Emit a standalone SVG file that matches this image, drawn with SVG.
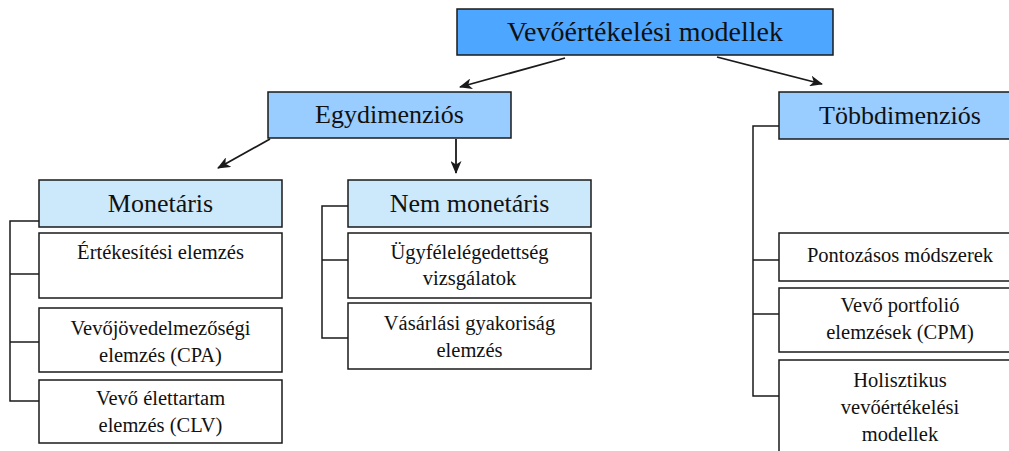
<svg xmlns="http://www.w3.org/2000/svg" width="1009" height="451" viewBox="0 0 1009 451">
  <style>
    .box { stroke: #1a1a1a; stroke-width: 1.5; }
    .root { fill: #4da6ff; }
    .mid { fill: #99ccff; }
    .sub { fill: #cce8fb; }
    .leaf { fill: #ffffff; }
    .t24 { font-size: 28px; }
    .t22 { font-size: 26px; }
    .t18 { font-size: 20.5px; }
    .link { fill: none; stroke: #1a1a1a; stroke-width: 1.5; }
    .arrow { fill: none; stroke: #1a1a1a; stroke-width: 1.8; marker-end: url(#head); }
  </style>
  <defs>
    <marker id="head" viewBox="0 0 13 11" refX="12" refY="5.5" markerWidth="13" markerHeight="11" markerUnits="userSpaceOnUse" orient="auto">
      <path d="M0,0 L13,5.5 L0,11 L3.5,5.5 Z" fill="#1a1a1a"/>
    </marker>
  </defs>
  <rect width="1009" height="451" fill="#ffffff"/>

  <g id="connectors">
    <line class="arrow" x1="565" y1="58" x2="460" y2="87"/>
    <line class="arrow" x1="717" y1="57" x2="822" y2="84"/>
    <line class="arrow" x1="270" y1="139" x2="218" y2="168"/>
    <line class="arrow" x1="456" y1="139" x2="456" y2="173"/>
    <!-- Monetáris bracket -->
    <polyline class="link" points="39,221 10,221 10,401 39,401"/>
    <line class="link" x1="10" y1="274" x2="39" y2="274"/>
    <line class="link" x1="10" y1="342" x2="39" y2="342"/>
    <!-- Nem monetáris bracket -->
    <polyline class="link" points="348,206 322,206 322,338 348,338"/>
    <line class="link" x1="322" y1="260" x2="348" y2="260"/>
    <!-- Többdimenziós bracket -->
    <polyline class="link" points="779,126 753,126 753,396 779,396"/>
    <line class="link" x1="753" y1="260" x2="779" y2="260"/>
    <line class="link" x1="753" y1="314" x2="779" y2="314"/>
  </g>

  <g font-family="Liberation Serif, Tinos, DejaVu Serif, serif" fill="#111" text-anchor="middle">
  <g id="root">
    <rect class="box root" x="457" y="9" width="376" height="46"/>
    <text class="t24" x="645" y="41">Vevőértékelési modellek</text>
  </g>
  <g id="egydimenzios">
    <rect class="box mid" x="268" y="92" width="243" height="46"/>
    <text class="t22" x="389.5" y="123">Egydimenziós</text>
  </g>
  <g id="tobbdimenzios">
    <rect class="box mid" x="779" y="92" width="243" height="47"/>
    <text class="t22" x="900" y="124">Többdimenziós</text>
  </g>
  <g id="monetaris">
    <rect class="box sub" x="39" y="180" width="243" height="47"/>
    <text class="t22" x="160.5" y="212">Monetáris</text>
  </g>
  <g id="nem-monetaris">
    <rect class="box sub" x="348" y="180" width="243" height="47"/>
    <text class="t22" x="469.5" y="212">Nem monetáris</text>
  </g>

  <g id="ertekesitesi">
    <rect class="box leaf" x="39" y="233" width="243" height="65"/>
    <text class="t18" x="160.5" y="259">Értékesítési elemzés</text>
  </g>
  <g id="cpa">
    <rect class="box leaf" x="39" y="308" width="243" height="64"/>
    <text class="t18" x="160.5" y="335">Vevőjövedelmezőségi</text>
    <text class="t18" x="160.5" y="362">elemzés (CPA)</text>
  </g>
  <g id="clv">
    <rect class="box leaf" x="39" y="380" width="243" height="63"/>
    <text class="t18" x="160.5" y="405">Vevő élettartam</text>
    <text class="t18" x="160.5" y="432">elemzés (CLV)</text>
  </g>

  <g id="ugyfelelegedettseg">
    <rect class="box leaf" x="348" y="233" width="243" height="65"/>
    <text class="t18" x="469.5" y="259">Ügyfélelégedettség</text>
    <text class="t18" x="469.5" y="285">vizsgálatok</text>
  </g>
  <g id="vasarlasi">
    <rect class="box leaf" x="348" y="303" width="243" height="66"/>
    <text class="t18" x="469.5" y="330">Vásárlási gyakoriság</text>
    <text class="t18" x="469.5" y="357">elemzés</text>
  </g>

  <g id="pontozasos">
    <rect class="box leaf" x="779" y="233" width="243" height="48"/>
    <text class="t18" x="900" y="262">Pontozásos módszerek</text>
  </g>
  <g id="cpm">
    <rect class="box leaf" x="779" y="288" width="243" height="64"/>
    <text class="t18" x="900" y="312">Vevő portfolió</text>
    <text class="t18" x="900" y="339">elemzések (CPM)</text>
  </g>
  <g id="holisztikus">
    <rect class="box leaf" x="779" y="360" width="243" height="100"/>
    <text class="t18" x="900" y="387">Holisztikus</text>
    <text class="t18" x="900" y="414">vevőértékelési</text>
    <text class="t18" x="900" y="441">modellek</text>
  </g>
  </g>
</svg>
